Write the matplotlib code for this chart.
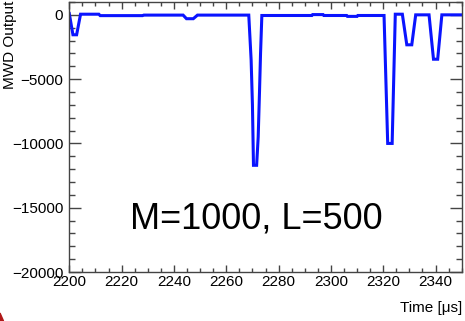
import matplotlib
matplotlib.use("Agg")
import matplotlib.pyplot as plt
import matplotlib.ticker as mticker
from matplotlib.patches import Polygon

plt.rcParams["font.family"] = ["Liberation Sans", "DejaVu Sans"]

# MWD trace: breakpoints of the filter output (time in us, output in ADC units)
time_us = [2200.0, 2201.4, 2202.8, 2204.3, 2211.3, 2211.8, 2228.0, 2228.5,
           2243.5, 2244.8, 2247.4, 2249.0, 2268.6, 2269.5, 2270.0, 2270.4,
           2271.6, 2272.2, 2272.7, 2273.1, 2273.6, 2292.7, 2293.0, 2297.0,
           2297.3, 2306.0, 2306.3, 2310.0, 2310.3, 2320.3, 2321.7, 2323.4,
           2324.6, 2327.3, 2329.0, 2330.9, 2332.4, 2337.5, 2339.2, 2340.8,
           2342.4, 2350.0]
mwd_out = [100, -1550, -1550, 50, 50, -60, -60, -20,
           -20, -300, -300, -20, -20, -3500, -7000, -11700,
           -11700, -9500, -6000, -3000, -50, -50, 20, 20,
           -50, -50, -120, -120, -50, -50, -10000, -10000,
           50, 50, -2330, -2330, 0, 0, -3450, -3450,
           0, 0]

x_range = (2200, 2350)
y_range = (-20000, 1000)
x_major = [2200, 2220, 2240, 2260, 2280, 2300, 2320, 2340]
y_major = [0, -5000, -10000, -15000, -20000]
annotation = "M=1000, L=500"

fig = plt.figure(figsize=(4.65, 3.21), dpi=100)
ax = fig.add_axes([0.149, 0.1526, 0.844, 0.8412])

ax.plot(time_us, mwd_out, color="#0a14ff", linewidth=2.2, solid_joinstyle="miter")

ax.set_xlim(*x_range)
ax.set_ylim(*y_range)
ax.set_xticks(x_major)
ax.set_yticks(y_major)
ax.xaxis.set_minor_locator(mticker.MultipleLocator(5))
ax.yaxis.set_minor_locator(mticker.MultipleLocator(1000))

for s in ax.spines.values():
    s.set_color("#444444")
    s.set_linewidth(1.0)

ax.tick_params(axis="both", which="both", direction="in", top=True, right=True,
               colors="#444444", labelcolor="black", labelsize=11)
ax.tick_params(axis="x", which="major", length=5, width=1, pad=2)
ax.tick_params(axis="x", which="minor", length=2.6, width=1)
ax.tick_params(axis="y", which="major", length=8.6, width=1, pad=4.4)
ax.tick_params(axis="y", which="minor", length=4.3, width=1)

ax.text(2271.4, -15900, annotation, fontsize=26, ha="center", va="center")

fig.text(10 / 465, 1 - 0.5 / 321, "MWD Output", rotation=90, fontsize=11,
         ha="center", va="top")
fig.text(462 / 465, 1 - 308 / 321, "Time [\u03bcs]", fontsize=11,
         ha="right", va="center")

# corner marker
fig.patches.append(Polygon([[0, 0], [0, 8 / 321], [3.5 / 465, 0]], closed=True,
                           transform=fig.transFigure, color="#b01818", zorder=5))

fig.savefig("out.png", dpi=100)
